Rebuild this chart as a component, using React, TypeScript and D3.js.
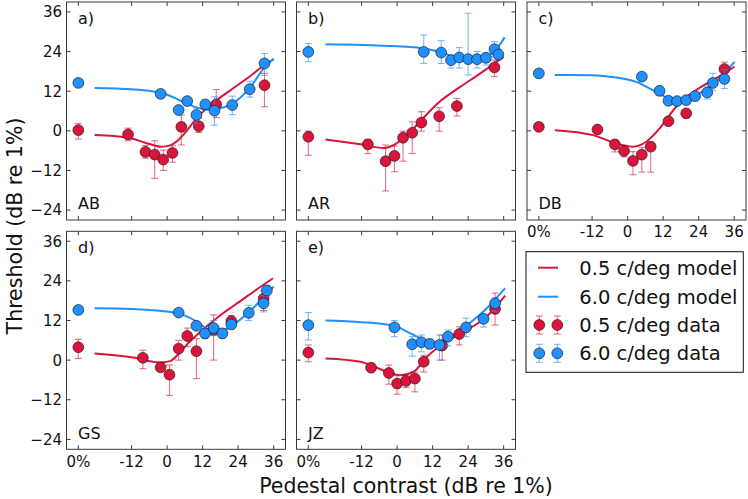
import React from 'react';
import * as d3 from 'd3';

// ---------- axes / labels ----------
const X_TICKS = [-30, -12, 0, 12, 24, 36];
const X_TICK_LABELS = ['0%', '-12', '0', '12', '24', '36'];
const Y_TICKS = [-24, -12, 0, 12, 24, 36];
const Y_TICK_LABELS = ['\u221224', '\u221212', '0', '12', '24', '36'];
const PANEL_IDS = ['a)', 'b)', 'c)', 'd)', 'e)'];
const SUBJECTS = ['AB', 'AR', 'DB', 'GS', 'JZ'];
const LEGEND_LABELS = ['0.5 c/deg model', '6.0 c/deg model', '0.5 c/deg data', '6.0 c/deg data'];

// ---------- data: [pedestal dB, threshold dB, err low, err high] ----------
const abRed = [
  [-30, 0.2, -2.5, 2.2], [-13.2, -1.1, -3.0, 0.8], [-7.3, -6.4, -8.3, -4.5], [-4.2, -7.2, -14.4, -3.0],
  [-1.3, -8.7, -12.0, -5.8], [1.8, -6.7, -9.5, -4.5], [4.8, 1.2, -4.3, 4.8], [10.7, 1.4, -0.5, 3.8],
  [16.6, 8.0, 4.0, 12.5], [32.9, 13.8, 7.3, 17.4],
];
const abBlue = [
  [-30, 14.5, 14.5, 14.5], [-2.2, 11.2, 10.0, 12.3], [3.9, 6.3, 5.5, 7.0], [6.8, 9.0, 8.0, 10.0],
  [9.9, 4.8, 2.2, 6.8], [12.9, 8.0, 7.0, 9.0], [16.0, 6.1, 1.7, 10.3], [22.0, 7.8, 4.9, 10.5],
  [27.9, 12.6, 10.2, 15.0], [32.9, 20.4, 16.8, 23.4],
];
const arRed = [
  [-30, -1.8, -7.4, -0.1], [-9.9, -4.1, -6.9, -2.6], [-3.9, -9.2, -18.2, -4.3], [-0.9, -7.6, -12.4, -4.6],
  [2.0, -2.1, -9.2, -0.1], [5.1, -0.6, -6.9, 2.7], [8.2, 2.5, -0.1, 5.8], [14.2, 4.4, -0.1, 7.0],
  [20.2, 7.5, 4.5, 9.8], [32.9, 19.2, 16.4, 21.4],
];
const arBlue = [
  [-30, 23.9, 20.9, 26.4], [9.0, 23.9, 20.4, 29.0], [14.9, 23.7, 20.4, 27.3], [18.2, 21.4, 19.0, 23.0],
  [21.0, 22.2, 19.0, 25.2], [24.0, 21.7, 16.9, 35.6], [27.0, 21.7, 19.0, 24.0], [30.0, 22.1, 19.9, 23.6],
  [32.9, 24.7, 22.4, 27.0], [34.2, 23.1, 21.5, 24.5],
];
const dbRed = [
  [-30, 1.2, 1.2, 1.2], [-10.2, 0.4, 0.0, 0.8], [-4.3, -4.1, -6.4, -2.8], [-1.2, -6.1, -7.9, -4.4],
  [1.8, -9.1, -13.3, -6.3], [4.8, -7.2, -12.5, -5.0], [7.8, -4.8, -12.5, -3.5], [13.8, 2.9, 2.0, 3.8],
  [19.8, 5.3, 5.3, 5.3], [32.7, 18.7, 16.7, 20.8],
];
const dbBlue = [
  [-30, 17.4, 17.4, 17.4], [4.8, 16.4, 16.0, 17.0], [10.8, 12.1, 10.8, 13.5], [13.8, 9.1, 8.0, 10.2],
  [16.7, 9.0, 8.5, 9.5], [19.8, 9.3, 8.2, 10.4], [22.8, 10.5, 9.8, 11.2], [26.9, 11.6, 9.6, 13.5],
  [28.8, 14.5, 12.3, 17.4], [32.7, 15.7, 12.8, 18.5],
];
const gsRed = [
  [-30, 3.9, 0.5, 6.3], [-8.2, 0.7, -2.6, 3.0], [-2.2, -2.2, -3.0, -1.4], [0.8, -4.4, -10.7, -1.5],
  [3.9, 3.5, 0.0, 6.0], [6.8, 7.3, 4.1, 9.7], [9.9, 2.7, -5.6, 6.5], [15.7, 9.1, 0.0, 13.7],
  [21.7, 11.8, 10.0, 13.5], [32.6, 18.6, 15.0, 21.0],
];
const gsBlue = [
  [-30, 15.2, 15.2, 15.2], [3.9, 14.4, 13.4, 15.2], [9.9, 10.4, 9.3, 11.5], [12.8, 8.1, 6.5, 9.6],
  [15.7, 9.7, 7.4, 12.0], [18.7, 8.1, 6.7, 9.5], [21.7, 10.8, 9.5, 12.2], [27.6, 14.3, 12.0, 16.6],
  [32.6, 17.2, 14.6, 19.6], [33.7, 21.1, 19.4, 22.6],
];
const jzRed = [
  [-30, 2.3, -0.5, 4.6], [-8.8, -2.3, -2.3, -2.3], [-2.8, -3.9, -7.3, -1.5], [0, -7.1, -10.3, -4.6],
  [3.0, -6.3, -8.3, -4.6], [6.0, -5.6, -9.6, -3.6], [9.0, -0.5, -3.6, 1.5], [15.2, 4.4, 0.0, 7.6],
  [21.0, 7.9, 4.6, 10.1], [33.1, 15.5, 10.6, 20.3],
];
const jzBlue = [
  [-30, 10.6, 6.1, 14.4], [-0.9, 9.9, 7.1, 12.0], [5.1, 4.8, 1.2, 7.1], [8.2, 5.4, 2.5, 7.6],
  [11.0, 4.9, 3.5, 6.3], [14.3, 4.6, 0.0, 7.6], [17.2, 7.1, 4.3, 9.1], [23.3, 9.9, 7.1, 12.7],
  [29.2, 12.5, 10.0, 13.7], [33.1, 17.2, 14.7, 18.8],
];

// ---------- model curves: [pedestal dB, threshold dB] ----------
const abRedModel = [[-24.5, -1.3], [-18, -1.6], [-12, -2.3], [-6, -4.0], [-2, -4.8], [1, -4.4], [3.1, -3.3], [5.9, -0.8], [8.7, 2.4], [11, 4.8], [15.4, 8.3], [22.2, 12.8], [28, 16.5], [33, 20], [36, 21.6]];
const abBlueModel = [[-24.5, 13.0], [-12, 12.6], [-6, 12.1], [-0.2, 11.0], [5.4, 8.8], [11, 6.8], [14.4, 6.3], [17.8, 6.8], [22.2, 8.3], [27.9, 13.0], [33, 19.3], [36, 21.8]];
const arRedModel = [[-24.2, -2.6], [-12.4, -4.1], [-4.5, -5.2], [-1.1, -4.3], [3.4, -1.3], [7.9, 3.0], [14.6, 9.0], [21.3, 13.3], [28.1, 17.4], [36, 22.4]];
const arBlueModel = [[-24.2, 26.2], [-12, 26.0], [0, 25.6], [6.7, 25.2], [10, 24.8], [14.6, 23.9], [19.1, 22.4], [22, 22.0], [25.8, 21.9], [30, 22.4], [32.5, 23.8], [34.5, 25.8], [36.3, 28.3]];
const dbRedModel = [[-24.6, 0.2], [-11.7, -1.3], [-2.7, -4.1], [1.8, -4.8], [6.3, -3.3], [10.8, 0.7], [16.4, 7.3], [23.1, 12.3], [29.9, 15.9], [36.1, 19.4]];
const dbBlueModel = [[-24.6, 16.9], [-12, 16.8], [-6.1, 16.4], [2.9, 14.8], [8.5, 12.3], [14.2, 9.8], [17.5, 9.3], [20, 9.6], [23.1, 10.8], [29.9, 14.8], [36.1, 20.9]];
const gsRedModel = [[-24.5, 2.0], [-11.5, 0.8], [-2.5, -0.7], [1, -0.3], [4, 2.0], [7, 5.0], [13.2, 10.1], [18.9, 14.2], [24.5, 17.7], [30.1, 21.3], [35.8, 24.8]];
const gsBlueModel = [[-24.5, 15.7], [-12, 15.5], [-5.9, 15.2], [4.2, 14.0], [9.9, 11.7], [13.2, 9.6], [17.7, 8.6], [22.2, 10.6], [29, 15.7], [36, 22.3]];
const jzRedModel = [[-24.2, 0.5], [-12.4, -0.5], [-3.4, -3.5], [1.1, -4.6], [5.6, -3.5], [10.1, 1.0], [15.7, 5.1], [23.6, 9.1], [30.3, 13.2], [36.5, 19.5]];
const jzBlueModel = [[-24.2, 12.0], [-12, 11.5], [-1.1, 10.4], [4.5, 8.1], [9.0, 6.1], [12.4, 5.1], [16.9, 6.6], [23.6, 10.6], [30.3, 15.7], [36.5, 21.8]];

const panelRed = [abRed, arRed, dbRed, gsRed, jzRed];
const panelBlue = [abBlue, arBlue, dbBlue, gsBlue, jzBlue];
const panelRedModel = [abRedModel, arRedModel, dbRedModel, gsRedModel, jzRedModel];
const panelBlueModel = [abBlueModel, arBlueModel, dbBlueModel, gsBlueModel, jzBlueModel];

// ---------- styling ----------
const RED = '#DC143C';
const BLUE = '#1E90FF';
const FONT = 'DejaVu Sans, Liberation Sans, sans-serif';
const FRAME = '#3a3a3a';
const COL_LEFT = [66.5, 296.5, 527];
const ROW_TOP = [2, 231.3];
const PW = 219;
const PH = 218;
const R = 5.4;

function ErrorPoints({ data, color, x, y }: any) {
  return (
    <g>
      {data.map((d: number[], i: number) =>
        d[2] === d[3] ? null : (
          <g key={'e' + i} stroke={color} strokeOpacity={0.6} strokeWidth={1.1}>
            <line x1={x(d[0])} x2={x(d[0])} y1={y(d[2])} y2={y(d[3])} />
            <line x1={x(d[0]) - 3.5} x2={x(d[0]) + 3.5} y1={y(d[2])} y2={y(d[2])} />
            <line x1={x(d[0]) - 3.5} x2={x(d[0]) + 3.5} y1={y(d[3])} y2={y(d[3])} />
          </g>
        )
      )}
      {data.map((d: number[], i: number) => (
        <circle key={'c' + i} cx={x(d[0])} cy={y(d[1])} r={R} fill={color} stroke="#1a1a1a" strokeOpacity={0.85} strokeWidth={0.8} />
      ))}
    </g>
  );
}

function Panel({ idx }: { idx: number }) {
  const col = idx % 3;
  const row = Math.floor(idx / 3);
  const left = COL_LEFT[col];
  const top = ROW_TOP[row];
  const x = d3.scaleLinear().domain([-34, 40]).range([left, left + PW]);
  const y = d3.scaleLinear().domain([-27, 39]).range([top + PH, top]);
  const line = d3
    .line<number[]>()
    .x((d) => x(d[0]))
    .y((d) => y(d[1]))
    .curve(d3.curveMonotoneX);
  const showY = col === 0;
  const showX = row === 1 || idx === 2;
  return (
    <g>
      <rect x={left} y={top} width={PW} height={PH} fill="white" stroke="none" />
      <path d={line(panelRedModel[idx] as any) || ''} fill="none" stroke={RED} strokeWidth={2} />
      <path d={line(panelBlueModel[idx] as any) || ''} fill="none" stroke={BLUE} strokeWidth={2} />
      <ErrorPoints data={panelRed[idx]} color={RED} x={x} y={y} />
      <ErrorPoints data={panelBlue[idx]} color={BLUE} x={x} y={y} />
      <rect x={left} y={top} width={PW} height={PH} fill="none" stroke={FRAME} strokeWidth={1} />
      {X_TICKS.map((t) => (
        <g key={'xt' + t} stroke={FRAME} strokeWidth={1}>
          <line x1={x(t)} x2={x(t)} y1={top + PH} y2={top + PH - 4} />
          <line x1={x(t)} x2={x(t)} y1={top} y2={top + 4} />
        </g>
      ))}
      {Y_TICKS.map((t) => (
        <g key={'yt' + t} stroke={FRAME} strokeWidth={1}>
          <line x1={left} x2={left + 4} y1={y(t)} y2={y(t)} />
          <line x1={left + PW} x2={left + PW - 4} y1={y(t)} y2={y(t)} />
        </g>
      ))}
      {showY &&
        Y_TICKS.map((t, i) => (
          <text key={'yl' + t} x={left - 4.5} y={y(t)} dy="0.36em" textAnchor="end" fontSize={15} fontFamily={FONT} fill="#111">
            {Y_TICK_LABELS[i]}
          </text>
        ))}
      {showX &&
        X_TICKS.map((t, i) => (
          <text key={'xl' + t} x={x(t)} y={top + PH + 17.3} textAnchor="middle" fontSize={15} fontFamily={FONT} fill="#111">
            {X_TICK_LABELS[i]}
          </text>
        ))}
      <text x={left + 11.5} y={top + 21.5} fontSize={16} fontFamily={FONT} fill="#111">
        {PANEL_IDS[idx]}
      </text>
      <text x={left + 11.5} y={top + PH - 10.7} fontSize={16} fontFamily={FONT} fill="#111">
        {SUBJECTS[idx]}
      </text>
    </g>
  );
}

function Legend() {
  const bx = 526;
  const by = 251.7;
  const rows = [267.7, 296.7, 325, 353.3];
  const colors = [RED, BLUE, RED, BLUE];
  return (
    <g>
      <rect x={bx} y={by} width={217.3} height={120.6} fill="white" stroke="#111" strokeWidth={1} />
      {LEGEND_LABELS.map((lab, i) => (
        <g key={lab}>
          {i < 2 ? (
            <line x1={538} x2={558} y1={rows[i]} y2={rows[i]} stroke={colors[i]} strokeWidth={2} />
          ) : (
            [539.3, 557.3].map((cx) => (
              <g key={cx}>
                <g stroke={colors[i]} strokeOpacity={0.6} strokeWidth={1.1}>
                  <line x1={cx} x2={cx} y1={rows[i] - 9} y2={rows[i] + 9} />
                  <line x1={cx - 3.5} x2={cx + 3.5} y1={rows[i] - 9} y2={rows[i] - 9} />
                  <line x1={cx - 3.5} x2={cx + 3.5} y1={rows[i] + 9} y2={rows[i] + 9} />
                </g>
                <circle cx={cx} cy={rows[i]} r={R} fill={colors[i]} stroke="#1a1a1a" strokeOpacity={0.85} strokeWidth={0.8} />
              </g>
            ))
          )}
          <text x={579.3} y={rows[i]} dy="0.36em" fontSize={19.5} fontFamily={FONT} fill="#111">
            {lab}
          </text>
        </g>
      ))}
    </g>
  );
}

export default function App() {
  return (
    <svg width={748} height={499} style={{ position: 'absolute', left: 0, top: 0, background: 'white' }}>
      <rect x={0} y={0} width={748} height={499} fill="white" />
      {[0, 1, 2, 3, 4].map((i) => (
        <Panel key={i} idx={i} />
      ))}
      <Legend />
      <text x={406} y={493} textAnchor="middle" fontSize={20.5} fontFamily={FONT} fill="#111">
        Pedestal contrast (dB re 1%)
      </text>
      <text transform="translate(21.5,226) rotate(-90)" textAnchor="middle" fontSize={20.5} fontFamily={FONT} fill="#111">
        Threshold (dB re 1%)
      </text>
    </svg>
  );
}
